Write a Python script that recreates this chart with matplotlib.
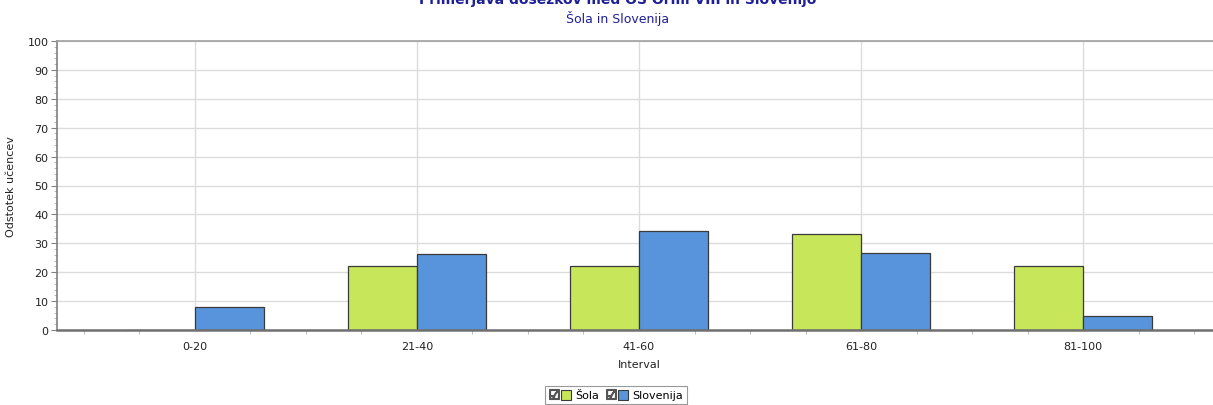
import matplotlib
matplotlib.use("Agg")
import matplotlib.pyplot as plt
import numpy as np
from matplotlib.patches import Patch
from matplotlib.lines import Line2D
from matplotlib.legend_handler import HandlerTuple
from matplotlib.ticker import MultipleLocator

categories = ["0-20", "21-40", "41-60", "61-80", "81-100"]
sola = [0, 22.2, 22.2, 33.3, 22.2]
slovenija = [8.1, 26.2, 34.3, 26.6, 4.9]

title = "Primerjava dosežkov med OŠ Ormi VIII in Slovenijo"
subtitle = "Šola in Slovenija"
xlabel = "Interval"
ylabel = "Odstotek učencev"

green = "#c8e65a"
blue = "#5894db"
edge = "#3a3a3a"
title_color = "#1f1f96"

W, H = 1213, 406
fig = plt.figure(figsize=(W / 100, H / 100), dpi=100)
ax = fig.add_axes([57 / W, 1 - 331 / H, (1221 - 57) / W, (331 - 42) / H])

x = np.arange(len(categories))
bw = 0.31
ax.bar(x - bw / 2, sola, bw, color=green, edgecolor=edge, linewidth=0.9, zorder=3)
ax.bar(x + bw / 2, slovenija, bw, color=blue, edgecolor=edge, linewidth=0.9, zorder=3)

ax.set_xlim(-0.62, 4.62)
ax.set_ylim(0, 100)
ax.set_xticks(x)
ax.set_xticklabels(categories)
ax.xaxis.set_minor_locator(MultipleLocator(0.25))
ax.set_yticks(np.arange(0, 101, 10))
ax.yaxis.set_minor_locator(MultipleLocator(2))

ax.grid(True, which="major", color="#dcdcdc", linewidth=1.0, zorder=0)
ax.set_axisbelow(True)

ax.spines["top"].set_color("#a0a0a0")
ax.spines["top"].set_linewidth(1.2)
ax.spines["right"].set_visible(False)
ax.spines["left"].set_color("#808080")
ax.spines["left"].set_linewidth(1.2)
ax.spines["bottom"].set_color("#707070")
ax.spines["bottom"].set_linewidth(1.8)
ax.spines["bottom"].set_zorder(4)

ax.tick_params(axis="both", which="major", labelsize=8, colors="#808080",
               labelcolor="#222222", length=4, width=0.8, pad=2)
ax.tick_params(axis="x", which="major", length=0, pad=8)
ax.tick_params(axis="x", which="minor", length=3, color="#b0b0b0")
ax.tick_params(axis="y", which="minor", length=2, color="#b0b0b0")

ax.set_xlabel(xlabel, fontsize=8, color="#222222", labelpad=6)
ax.set_ylabel(ylabel, fontsize=8, color="#222222")
ax.yaxis.set_label_coords((16 - 57) / (1221 - 57), 0.5)

fig.text(618 / W, 1 + 1 / H, title, ha="center", va="center", fontsize=10,
         fontweight="bold", color=title_color)
fig.text(618 / W, 1 - 19 / H, subtitle, ha="center", va="center", fontsize=9,
         color=title_color)

chk = dict(marker="$\u2611$", color="#555555", markersize=7, linestyle="none")
h1 = (Line2D([], [], **chk), Patch(facecolor=green, edgecolor=edge, linewidth=0.8))
h2 = (Line2D([], [], **chk), Patch(facecolor=blue, edgecolor=edge, linewidth=0.8))
leg = fig.legend([h1, h2], ["Šola", "Slovenija"], loc="center",
                 bbox_to_anchor=(616 / W, 1 - 396 / H), ncol=2, fontsize=8,
                 handler_map={tuple: HandlerTuple(ndivide=None, pad=0.2)},
                 handlelength=2.0, handleheight=1.0, handletextpad=0.4,
                 columnspacing=0.6, frameon=True, fancybox=False,
                 borderpad=0.3, borderaxespad=0)
leg.get_frame().set_edgecolor("#808080")
leg.get_frame().set_linewidth(0.8)

fig.savefig("out.png", dpi=100)
